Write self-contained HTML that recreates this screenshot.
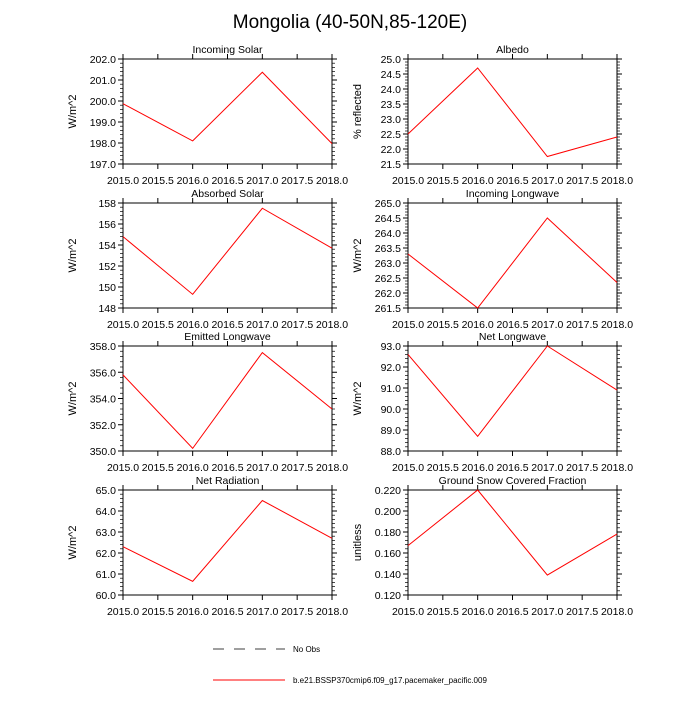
<!DOCTYPE html>
<html><head><meta charset="utf-8"><style>
body{margin:0;background:#fff}
svg{font-family:"Liberation Sans",sans-serif}
</style></head><body>
<svg id="c" width="700" height="700" xmlns="http://www.w3.org/2000/svg">
<text x="350" y="28" text-anchor="middle" font-size="19">Mongolia (40-50N,85-120E)</text>
<g>
<line x1="213" y1="649" x2="285" y2="649" stroke="#000" stroke-width="0.7" stroke-dasharray="11,10"/>
<text x="293" y="652" font-size="8">No Obs</text>
<line x1="213" y1="680" x2="285" y2="680" stroke="red" stroke-width="1"/>
<text x="293" y="683" font-size="8">b.e21.BSSP370cmip6.f09_g17.pacemaker_pacific.009</text>
</g>
</svg>
<script>
const years=[2015,2016,2017,2018];
const xTicks=[2015.0,2015.5,2016.0,2016.5,2017.0,2017.5,2018.0];
const titles=["Incoming Solar","Albedo","Absorbed Solar","Incoming Longwave","Emitted Longwave","Net Longwave","Net Radiation","Ground Snow Covered Fraction"];
const units=["W/m^2","% reflected","W/m^2","W/m^2","W/m^2","W/m^2","W/m^2","unitless"];
const vIncSolar=[199.87,198.1,201.37,197.97];
const vAlbedo=[22.5,24.7,21.75,22.4];
const vAbsSolar=[154.8,149.3,157.5,153.7];
const vIncLW=[263.3,261.5,264.5,262.35];
const vEmitLW=[355.8,350.2,357.5,353.2];
const vNetLW=[92.6,88.7,93.0,90.9];
const vNetRad=[62.3,60.65,64.5,62.7];
const vSnow=[0.167,0.220,0.139,0.178];
const yMin=[197,21.5,148,261.5,350,88,60,0.12];
const yMax=[202,25,158,265,358,93,65,0.22];
const yStep=[1,0.5,2,0.5,2,1,1,0.02];
const yDec=[1,1,0,1,1,1,1,3];
const series=[vIncSolar,vAlbedo,vAbsSolar,vIncLW,vEmitLW,vNetLW,vNetRad,vSnow];
const svg=document.getElementById('c');const NS="http://www.w3.org/2000/svg";
function mk(t,a,p){const e=document.createElementNS(NS,t);for(const k in a)e.setAttribute(k,a[k]);(p||svg).appendChild(e);return e;}
const colX=[123,408],rowY=[59,203,346,490],W=209,H=105;
for(let i=0;i<8;i++){
 const x0=colX[i%2],y0=rowY[Math.floor(i/2)];
 const g=mk('g',{});
 
 
 const sx=v=>x0+(v-2015)/3*W, sy=v=>y0+H-(v-yMin[i])/(yMax[i]-yMin[i])*H;
 const fr=mk('rect',{x:x0,y:y0,width:W,height:H,fill:'none',stroke:'#000','stroke-width':1},g);
 
 xTicks.forEach(t=>{const X=sx(t);
  mk('line',{x1:X,y1:y0+H,x2:X,y2:y0+H+5,stroke:'#000'},g);
  mk('line',{x1:X,y1:y0,x2:X,y2:y0-5,stroke:'#000'},g);
  const tl=mk('text',{x:X,y:y0+H+20,'text-anchor':'middle','font-size':10.5},g);tl.textContent=t.toFixed(1);
  });
 const n=Math.round((yMax[i]-yMin[i])/yStep[i]);
 for(let k=0;k<=n;k++){const v=yMin[i]+k*yStep[i],Y=sy(v);
  mk('line',{x1:x0,y1:Y,x2:x0-5,y2:Y,stroke:'#000'},g);
  mk('line',{x1:x0+W,y1:Y,x2:x0+W+5,y2:Y,stroke:'#000'},g);
  const tl=mk('text',{x:x0-7,y:Y+4,'text-anchor':'end','font-size':10.5},g);tl.textContent=v.toFixed(yDec[i]);
  
  if(k<n)for(let m=1;m<5;m++){const Ym=sy(v+m*yStep[i]/5);
   mk('line',{x1:x0,y1:Ym,x2:x0-3,y2:Ym,stroke:'#000','stroke-width':0.7},g);
   mk('line',{x1:x0+W,y1:Ym,x2:x0+W+3,y2:Ym,stroke:'#000','stroke-width':0.7},g);}
 }
 const tt=mk('text',{x:x0+W/2,y:y0-6,'text-anchor':'middle','font-size':10.5},g);tt.textContent=titles[i];
 
 const yl=mk('text',{x:0,y:0,'text-anchor':'middle','font-size':11,transform:`translate(${x0-47},${y0+H/2}) rotate(-90)`},g);yl.textContent=units[i];
 
 const pts=series[i].map((v,j)=>sx(years[j])+','+sy(v)).join(' ');
 const pl=mk('polyline',{points:pts,fill:'none',stroke:'red','stroke-width':1},g);
 
}
</script>
</body></html>
